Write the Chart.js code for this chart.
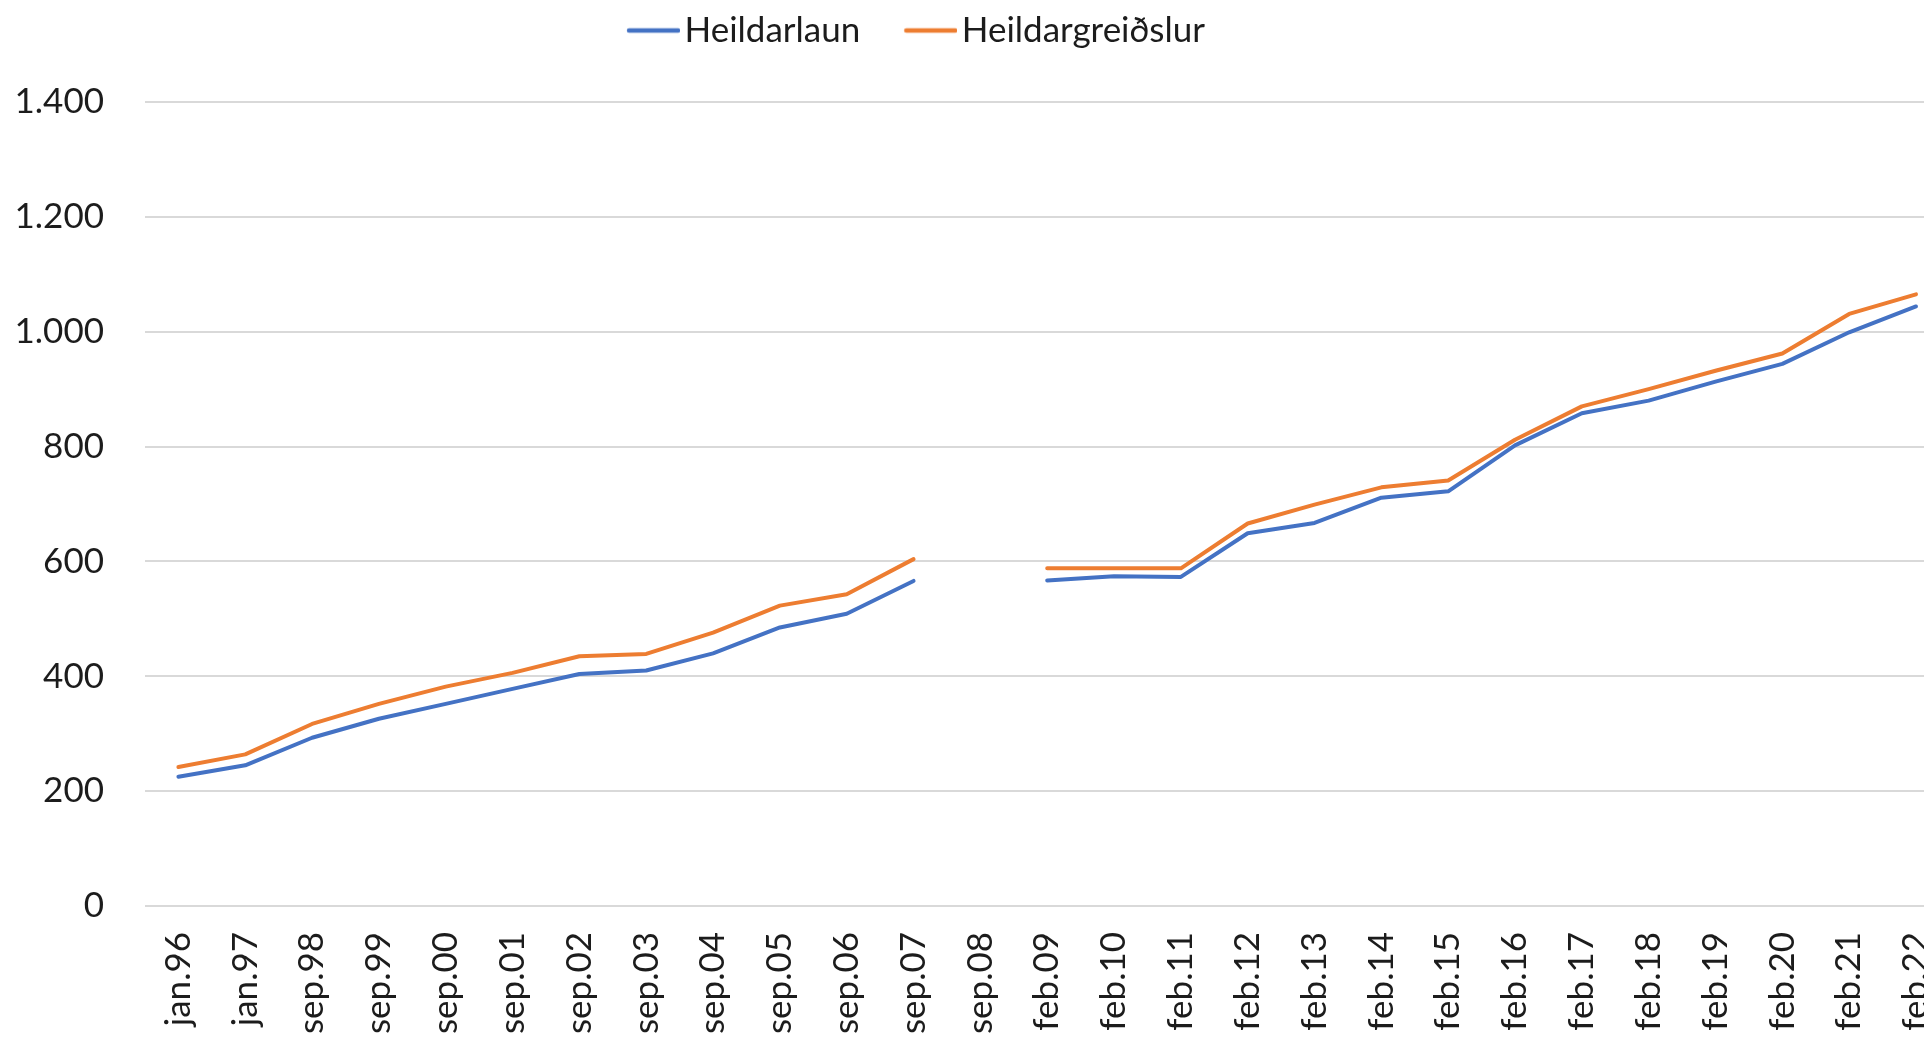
<!DOCTYPE html>
<html>
<head>
<meta charset="utf-8">
<script src="https://cdn.jsdelivr.net/npm/chart.js@4.4.1/dist/chart.umd.min.js"></script>
<style>
html,body{margin:0;padding:0;overflow:hidden;background:#ffffff;}
canvas{display:block;}
</style>
</head>
<body>
<canvas id="c" width="1984" height="1041"></canvas>
<script>
// ---- data ----
const categories = ['jan.96','jan.97','sep.98','sep.99','sep.00','sep.01','sep.02','sep.03','sep.04','sep.05','sep.06','sep.07','sep.08',
  'feb.09','feb.10','feb.11','feb.12','feb.13','feb.14','feb.15','feb.16','feb.17','feb.18','feb.19','feb.20','feb.21','feb.22'];
const heildarlaun = [225, 245, 293, 326, 352, 378, 404, 410, 440, 485, 509, 566, null,
  567, 574, 573, 649, 667, 711, 722, 802, 858, 880, 913, 944, 999, 1044];
const heildargreidslur = [242, 264, 317, 352, 382, 406, 435, 439, 476, 523, 543, 604, null,
  588, 588, 588, 666, 699, 729, 741, 812, 870, 900, 932, 962, 1031, 1065];
const seriesNames = ['Heildarlaun', 'Heildargreiðslur'];
const seriesColors = ['#4472C4', '#ED7D31'];
const yMin = 0, yMax = 1400, yStep = 200;

const FONT = 'Lato, "Open Sans", sans-serif';
const TEXT = '#1c1c1c';

function fmt(v){ return String(v).replace(/\B(?=(\d{3})+(?!\d))/g, '.'); }

// legend line marker: image offset so the line sits close to the text
function legendMarker(color){
  const c = document.createElement('canvas');
  c.width = 62; c.height = 8;
  const g = c.getContext('2d');
  g.strokeStyle = color; g.lineWidth = 4.5; g.lineCap = 'round';
  g.beginPath(); g.moveTo(11, 4); g.lineTo(60, 4); g.stroke();
  return c;
}
const markers = seriesColors.map(legendMarker);

const legendTweak = {
  id: 'legendTweak',
  beforeInit(chart) {
    const lg = chart.legend;
    const fit0 = lg.fit;
    lg.fit = function(){ fit0.call(this); this.height = 102; };
    const draw0 = lg.draw;
    const dx = -74, dy = -35;
    lg.draw = function(){
      this.left += dx; this.right += dx; this.top += dy; this.bottom += dy;
      draw0.call(this);
      this.left -= dx; this.right -= dx; this.top -= dy; this.bottom -= dy;
    };
  }
};

new Chart(document.getElementById('c'), {
  type: 'line',
  data: {
    labels: categories,
    datasets: [
      { label: seriesNames[0], data: heildarlaun, borderColor: seriesColors[0], backgroundColor: seriesColors[0],
        borderWidth: 4, pointRadius: 0, pointHoverRadius: 0, tension: 0, spanGaps: false,
        borderCapStyle: 'round', borderJoinStyle: 'round', pointStyle: markers[0] },
      { label: seriesNames[1], data: heildargreidslur, borderColor: seriesColors[1], backgroundColor: seriesColors[1],
        borderWidth: 4, pointRadius: 0, pointHoverRadius: 0, tension: 0, spanGaps: false,
        borderCapStyle: 'round', borderJoinStyle: 'round', pointStyle: markers[1] }
    ]
  },
  options: {
    responsive: false,
    animation: false,
    devicePixelRatio: 1,
    layout: { padding: 0 },
    plugins: {
      tooltip: { enabled: false },
      legend: {
        display: true,
        position: 'top',
        align: 'center',
        labels: {
          usePointStyle: true,
          pointStyleWidth: 36,
          padding: 48,
          color: TEXT,
          font: { family: FONT, size: 35 }
        }
      }
    },
    scales: {
      x: {
        type: 'category',
        offset: true,
        grid: { display: false, drawTicks: false },
        border: { display: false },
        ticks: {
          autoSkip: false, maxRotation: 90, minRotation: 90, padding: 26,
          color: TEXT, font: { family: FONT, size: 35 }
        },
        afterFit(scale){ scale.height = 135; }
      },
      y: {
        min: yMin, max: yMax,
        grid: { color: '#d9d9d9', lineWidth: 2, drawTicks: false },
        border: { display: false },
        ticks: {
          stepSize: yStep, padding: 41, color: TEXT,
          font: { family: FONT, size: 35 },
          callback: (v) => fmt(v)
        },
        afterFit(scale){ scale.width = 145; }
      }
    }
  },
  plugins: [legendTweak]
});
</script>
</body>
</html>
